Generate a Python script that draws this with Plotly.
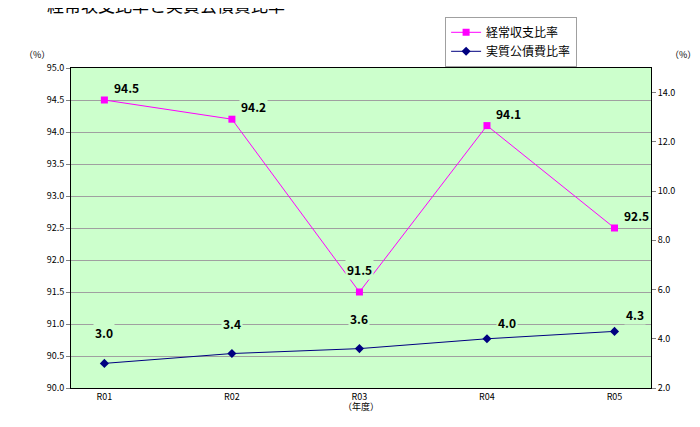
import plotly.graph_objects as go

years = ["R01", "R02", "R03", "R04", "R05"]
keijo = [94.5, 94.2, 91.5, 94.1, 92.5]
kosai = [3.0, 3.4, 3.6, 4.0, 4.3]
left_ticks = [90.0 + 0.5 * i for i in range(11)]
right_ticks = [2.0 + 2 * i for i in range(7)]

font = "Noto Sans CJK JP"
fig = go.Figure()
fig.add_trace(go.Scatter(x=years, y=keijo, name="経常収支比率", mode="lines+markers",
                         line=dict(color="#FF00FF", width=1),
                         marker=dict(symbol="square", size=7, color="#FF00FF")))
fig.add_trace(go.Scatter(x=years, y=kosai, name="実質公債費比率", mode="lines+markers", yaxis="y2",
                         line=dict(color="#000080", width=1),
                         marker=dict(symbol="diamond", size=7, color="#000080")))
ann = []
for x, v in zip(years, keijo):
    ann.append(dict(x=x, y=v, text=f"<b>{v:.1f}</b>", showarrow=False, xshift=22, yshift=2,
                    yanchor="bottom", bgcolor="#CCFFCC", font=dict(size=12, color="black", family=font)))
ann[2].update(xshift=0, yshift=12)
for x, v in zip(years, kosai):
    ann.append(dict(x=x, y=v, yref="y2", text=f"<b>{v:.1f}</b>", showarrow=False, xshift=0 if v < 4 else 20,
                    yshift=20 if v < 4 else 6, yanchor="bottom", bgcolor="#CCFFCC",
                    font=dict(size=12, color="black", family=font)))
ann.append(dict(xref="paper", yref="paper", x=-0.045, y=1.2, xanchor="left", yanchor="middle",
                text="経常収支比率と実質公債費比率", showarrow=False, font=dict(size=17, family=font, color="black")))
ann.append(dict(xref="paper", yref="paper", x=-0.085, y=1.07, xanchor="left", text="（%）", showarrow=False, font=dict(size=9, family=font, color="black")))
ann.append(dict(xref="paper", yref="paper", x=1.03, y=1.07, xanchor="left", text="（%）", showarrow=False, font=dict(size=9, family=font, color="black")))
ann.append(dict(xref="paper", yref="paper", x=0.5, y=-0.085, text="（年度）", showarrow=False, font=dict(size=9, family=font, color="black")))

fig.update_layout(
    width=700, height=427, paper_bgcolor="white", plot_bgcolor="#CCFFCC",
    margin=dict(l=63, r=57, t=60, b=47, autoexpand=False), font=dict(family=font, size=9, color="black"),
    xaxis=dict(type="category", showline=True, linecolor="black", mirror=True, ticks="", showgrid=False),
    yaxis=dict(range=[90, 95], tickvals=left_ticks, ticktext=[f"{t:.1f}" for t in left_ticks],
               gridcolor="#A0A0A0", gridwidth=1, showline=True, linecolor="black", mirror=True,
               ticks="outside", ticklen=4, tickcolor="#808080", zeroline=False),
    yaxis2=dict(range=[2, 15], overlaying="y", side="right", tickvals=right_ticks,
                ticktext=[f"{t:.1f}" for t in right_ticks], showgrid=False, zeroline=False,
                ticks="outside", ticklen=4, tickcolor="#808080"),
    legend=dict(x=0.645, y=1.16, xanchor="left", yanchor="top", bordercolor="#A0A0A0", borderwidth=1,
                font=dict(size=12, family=font), bgcolor="white", tracegroupgap=0),
    annotations=ann, showlegend=True,
)
fig.write_html("out.html")
